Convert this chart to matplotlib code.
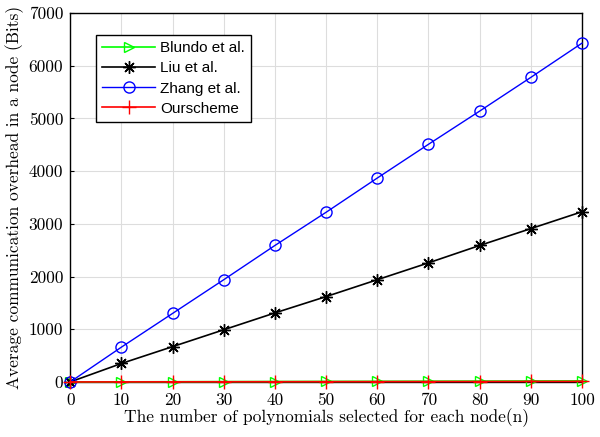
import matplotlib
matplotlib.use('Agg')
from matplotlib import pyplot as plt

# data
n = [0, 10, 20, 30, 40, 50, 60, 70, 80, 90, 100]
blundo = [0, 2, 4, 6, 8, 10, 12, 14, 16, 18, 20]
liu = [0, 350, 670, 990, 1310, 1620, 1940, 2260, 2590, 2910, 3230]
zhang = [0, 660, 1300, 1940, 2590, 3220, 3870, 4510, 5140, 5780, 6430]
ours = [0, 1, 2, 3, 4, 5, 6, 7, 8, 9, 10]

fig = plt.figure(figsize=(6, 4.37), dpi=100)
ax = fig.add_axes([0.117, 0.126, 0.853, 0.844])

ax.plot(n, blundo, color='#00ff00', marker='>', markersize=7, mfc='none', lw=1.2,
        clip_on=False, zorder=3, label='Blundo et al.')
ax.plot(n, liu, color='black', marker=(8, 2, 0), markersize=9, lw=1.2,
        clip_on=False, zorder=3, label='Liu et al.')
ax.plot(n, zhang, color='blue', marker='o', markersize=8, mfc='none', lw=1,
        clip_on=False, zorder=3, label='Zhang et al.')
ax.plot(n, ours, color='red', marker='+', markersize=10, lw=1.2,
        clip_on=False, zorder=4, label='Ourscheme')

ax.set_xlim(0, 100)
ax.set_ylim(0, 7000)
ax.set_xticks(range(0, 101, 10))
ax.set_yticks(range(0, 7001, 1000))
ax.grid(True, color='#dddddd', lw=0.8)
ax.tick_params(direction='in', length=3, labelsize=12.5, pad=5)
ax.tick_params(axis='x', pad=8)
for lab in ax.get_xticklabels() + ax.get_yticklabels():
    lab.set_family('cmr10')
for s in ax.spines.values():
    s.set_linewidth(1)

ax.set_xlabel('The number of polynomials selected for each node(n)', family='cmr10', fontsize=12.5, labelpad=0)
ax.set_ylabel('Average communication overhead in a node (Bits)', family='cmr10', fontsize=12.5, labelpad=3)

leg = ax.legend(loc='upper left', bbox_to_anchor=(0.05, 0.94), prop={'family': 'Liberation Sans', 'size': 11},
                fancybox=False, edgecolor='black', framealpha=1, handlelength=3.5, borderpad=0.4,
                labelspacing=0.4, handletextpad=0.3, borderaxespad=0)
leg.get_frame().set_linewidth(1)

fig.savefig('out.png', dpi=100)
